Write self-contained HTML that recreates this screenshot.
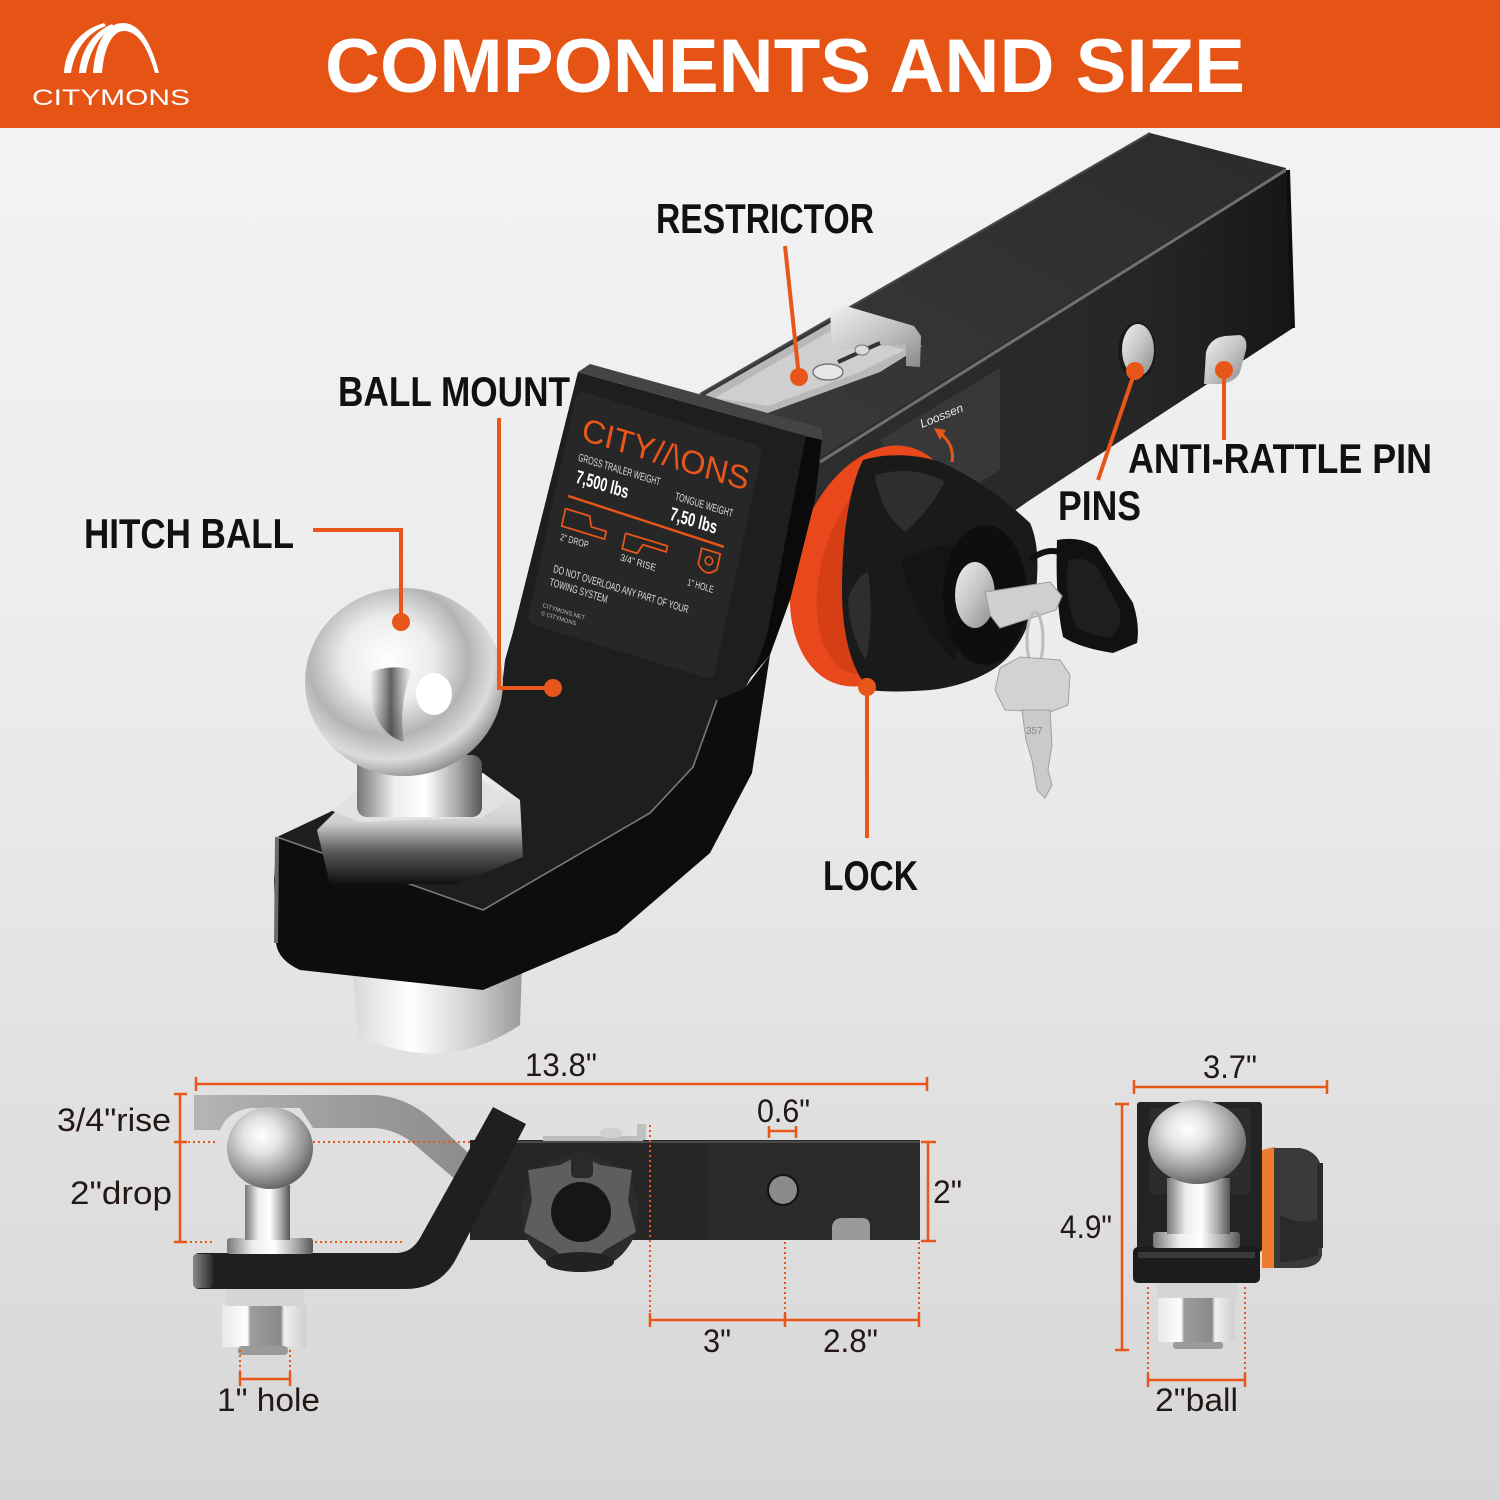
<!DOCTYPE html>
<html><head><meta charset="utf-8"><style>
html,body{margin:0;padding:0;width:1500px;height:1500px;overflow:hidden;background:#e6e6e6}
svg{display:block}
</style></head><body>
<svg width="1500" height="1500" viewBox="0 0 1500 1500" xmlns="http://www.w3.org/2000/svg">
<defs>
 <linearGradient id="bg" x1="0" y1="0" x2="0" y2="1">
  <stop offset="0" stop-color="#f4f4f4"/>
  <stop offset="0.45" stop-color="#ececec"/>
  <stop offset="1" stop-color="#d6d6d6"/>
 </linearGradient>
 <linearGradient id="tubeTop" x1="0" y1="1" x2="1" y2="0">
  <stop offset="0" stop-color="#3a3a3a"/>
  <stop offset="1" stop-color="#2b2b2b"/>
 </linearGradient>
 <linearGradient id="tubeSide" x1="0" y1="0" x2="1" y2="0">
  <stop offset="0" stop-color="#2e2e2e"/>
  <stop offset="0.7" stop-color="#262626"/>
  <stop offset="1" stop-color="#161616"/>
 </linearGradient>
 <radialGradient id="ballG" cx="0.42" cy="0.38" r="0.65">
  <stop offset="0" stop-color="#ffffff"/>
  <stop offset="0.35" stop-color="#ececec"/>
  <stop offset="0.62" stop-color="#b4b4b4"/>
  <stop offset="0.82" stop-color="#dcdcdc"/>
  <stop offset="1" stop-color="#8c8c8c"/>
 </radialGradient>
 <radialGradient id="sballG" cx="0.4" cy="0.35" r="0.7">
  <stop offset="0" stop-color="#ffffff"/>
  <stop offset="0.3" stop-color="#e4e4e4"/>
  <stop offset="0.7" stop-color="#9a9a9a"/>
  <stop offset="1" stop-color="#5a5a5a"/>
 </radialGradient>
 <linearGradient id="neckG" x1="0" y1="0" x2="1" y2="0">
  <stop offset="0" stop-color="#777"/>
  <stop offset="0.3" stop-color="#eee"/>
  <stop offset="0.55" stop-color="#fff"/>
  <stop offset="0.8" stop-color="#aaa"/>
  <stop offset="1" stop-color="#555"/>
 </linearGradient>
 <linearGradient id="hexG" x1="0" y1="0" x2="0" y2="1">
  <stop offset="0" stop-color="#f2f2f2"/>
  <stop offset="0.45" stop-color="#cfcfcf"/>
  <stop offset="0.72" stop-color="#555"/>
  <stop offset="1" stop-color="#111"/>
 </linearGradient>
 <linearGradient id="nutG" x1="0" y1="0" x2="1" y2="0">
  <stop offset="0" stop-color="#d8d8d8"/>
  <stop offset="0.35" stop-color="#ffffff"/>
  <stop offset="0.7" stop-color="#d0d0d0"/>
  <stop offset="1" stop-color="#9a9a9a"/>
 </linearGradient>
 <linearGradient id="snutG" x1="0" y1="0" x2="1" y2="0">
  <stop offset="0" stop-color="#e8e8e8"/>
  <stop offset="0.3" stop-color="#ffffff"/>
  <stop offset="0.34" stop-color="#9c9c9c"/>
  <stop offset="0.7" stop-color="#8a8a8a"/>
  <stop offset="0.74" stop-color="#f0f0f0"/>
  <stop offset="1" stop-color="#cfcfcf"/>
 </linearGradient>
 <linearGradient id="ghostG" x1="0" y1="0" x2="1" y2="0">
  <stop offset="0" stop-color="#b5b5b5"/>
  <stop offset="0.5" stop-color="#9c9c9c"/>
  <stop offset="1" stop-color="#8a8a8a"/>
 </linearGradient>
 <linearGradient id="silverG" x1="0" y1="0" x2="1" y2="1">
  <stop offset="0" stop-color="#f0f0f0"/>
  <stop offset="0.5" stop-color="#c4c4c4"/>
  <stop offset="1" stop-color="#8a8a8a"/>
 </linearGradient>
 <linearGradient id="endG" x1="0" y1="0" x2="1" y2="0">
  <stop offset="0" stop-color="#8a8a8a"/>
  <stop offset="1" stop-color="#2a2a2a"/>
 </linearGradient>
 <linearGradient id="stripeG" x1="0" y1="0" x2="1" y2="0">
  <stop offset="0" stop-color="#555" stop-opacity="0"/>
  <stop offset="0.5" stop-color="#3a3a3a" stop-opacity="0.8"/>
  <stop offset="1" stop-color="#555" stop-opacity="0"/>
 </linearGradient>
</defs>

<!-- background -->
<rect x="0" y="0" width="1500" height="1500" fill="url(#bg)"/>

<!-- header -->
<rect x="0" y="0" width="1500" height="128" fill="#E65415"/>
<g fill="#ffffff">
 <path d="M64,73 C65,50 79,30 104,23 L106,26 C86,33 74,52 71,73 Z"/>
 <path d="M79,73 C81,50 93,32 112,24 L114,27 C99,35 89,52 86,73 Z"/>
 <path d="M93,73 C95,45 105,24 122,23 C140,22 152,45 159,73 L155,73 C148,48 138,31 124,31 C112,31 104,48 102,73 Z"/>
</g>
<text x="32" y="105" font-family="Liberation Sans, sans-serif" font-size="22" fill="#ffffff" textLength="158" lengthAdjust="spacingAndGlyphs">CITYMONS</text>
<text x="325" y="92" font-family="Liberation Sans, sans-serif" font-weight="bold" font-size="76" fill="#ffffff" textLength="920" lengthAdjust="spacingAndGlyphs">COMPONENTS AND SIZE</text>

<!-- ============ MAIN PRODUCT ============ -->
<polygon points="700,394 1150,133 1286,168 820,462" fill="url(#tubeTop)"/>
<polygon points="800,470 1286,168 1293,328 1030,500 900,590 800,620" fill="url(#tubeSide)"/>
<line x1="820" y1="462" x2="1286" y2="170" stroke="#707070" stroke-width="3"/>
<line x1="700" y1="394" x2="1150" y2="133" stroke="#4a4a4a" stroke-width="2"/>
<line x1="1288" y1="170" x2="1293" y2="328" stroke="#0e0e0e" stroke-width="4"/>
<polygon points="880,440 1000,368 1000,470 935,510" fill="#383838"/>
<text x="0" y="0" transform="translate(922,428) rotate(-22)" font-family="Liberation Sans, sans-serif" font-size="12" font-style="italic" fill="#e8e8e8">Loossen</text>
<path d="M952,462 Q955,445 940,433" fill="none" stroke="#E8561A" stroke-width="3"/>
<polygon points="934,428 946,430 940,440" fill="#E8561A"/>
<ellipse cx="1137" cy="351" rx="19" ry="29" fill="#1a1a1a"/>
<ellipse cx="1138" cy="350" rx="16" ry="26" fill="url(#silverG)"/>
<path d="M1206,352 Q1210,338 1225,336 L1240,335 Q1248,338 1246,350 L1240,372 Q1236,382 1220,384 L1204,384 Z" fill="url(#silverG)"/>

<!-- restrictor -->
<polygon points="705,395 832,322 922,346 880,372 765,414" fill="#b8b8b8"/>
<polygon points="715,398 832,330 905,350 860,372 768,406" fill="#cfcfcf"/>
<polygon points="830,310 846,306 914,326 921,336 920,367 906,366 906,344 832,350" fill="url(#silverG)"/>
<ellipse cx="828" cy="372" rx="15" ry="8" fill="#e6e6e6" stroke="#777" stroke-width="1.5"/>
<line x1="838" y1="362" x2="880" y2="343" stroke="#333" stroke-width="4"/>
<ellipse cx="862" cy="350" rx="7" ry="5" fill="#ddd" stroke="#777"/>

<!-- lock -->
<ellipse cx="875" cy="566" rx="80" ry="124" transform="rotate(18 875 566)" fill="#E8481C"/>
<ellipse cx="885" cy="566" rx="62" ry="112" transform="rotate(18 885 566)" fill="#D63E16"/>
<path d="M863,460 C890,452 920,455 940,462 C970,475 1000,495 1030,523 C1040,545 1038,575 1035,600 C1030,625 1020,645 1005,660 C990,675 960,687 930,690 C905,692 885,692 870,690 C850,670 842,630 842,590 C842,540 848,490 863,460 Z" fill="#1a1a1a"/>
<path d="M875,475 C900,468 925,470 945,482 C935,500 920,520 905,532 C890,520 878,500 875,475 Z" fill="#2e2e2e"/>
<path d="M848,600 C852,585 860,575 868,572 C872,600 872,630 866,660 C856,645 849,625 848,600 Z" fill="#2e2e2e"/>
<path d="M900,560 C930,545 960,540 990,548 C975,580 960,620 955,660 C930,640 910,600 900,560 Z" fill="#141414"/>
<ellipse cx="985" cy="595" rx="42" ry="70" fill="#0e0e0e"/>
<ellipse cx="975" cy="595" rx="20" ry="33" fill="url(#silverG)"/>
<path d="M1057,540 Q1080,536 1097,547 L1133,603 Q1140,625 1137,643 L1113,653 Q1080,648 1063,637 Q1055,600 1057,540 Z" fill="#111"/>
<path d="M1068,560 Q1085,555 1098,568 L1120,610 Q1122,630 1110,638 Q1085,635 1075,625 Q1064,595 1068,560 Z" fill="#1e1e1e"/>
<path d="M1030,560 Q1045,548 1060,552" fill="none" stroke="#111" stroke-width="6"/>
<polygon points="985,592 1050,582 1062,596 1056,610 1000,628 990,615" fill="#cfcfcf" stroke="#9a9a9a" stroke-width="1"/>
<ellipse cx="1035" cy="640" rx="8" ry="28" fill="none" stroke="#bdbdbd" stroke-width="3"/>
<polygon points="1000,668 1020,657 1060,660 1070,675 1068,705 1050,712 1005,710 995,690" fill="#d2d2d2" stroke="#a0a0a0" stroke-width="1"/>
<polygon points="1022,710 1050,710 1052,745 1048,770 1052,785 1045,798 1037,790 1032,760 1026,740" fill="#cacaca" stroke="#a0a0a0" stroke-width="1"/>
<text x="1026" y="734" font-family="Liberation Sans, sans-serif" font-size="10" fill="#888">357</text>

<!-- ball mount -->
<path d="M352,965 L522,965 L520,1025 Q480,1052 435,1054 Q390,1052 358,1036 Z" fill="url(#nutG)"/>
<polygon points="762,433 822,438 815,500 790,600 770,655 740,690 718,705 712,675" fill="#0a0a0a"/>
<path d="M578,372 L806,436 L768,630 C752,690 725,720 693,767 L650,813 L483,910 L277,837 L330,812 L500,705 L505,660 L513,632 Z" fill="#1e1e1e"/>
<path d="M277,837 L483,910 L650,813 L693,767 L717,700 L745,688 L770,655 L752,773 L710,853 L617,933 L483,990 L300,970 Q278,960 276,943 L274,880 Z" fill="#0d0d0d"/>
<path d="M277,837 L276,943" stroke="#6a6a6a" stroke-width="4"/>
<polyline points="277,837 483,910 650,813 693,767 717,700" fill="none" stroke="#9a9a9a" stroke-width="1.6" opacity="0.75"/>
<polygon points="578,372 590,364 822,428 822,440 806,436" fill="#444"/>
<g transform="matrix(0.93,0.285,-0.208,0.971,577,390)">
 <rect x="0" y="0" width="200" height="240" rx="8" fill="#272727"/>
 <text x="14" y="47" font-family="Liberation Sans, sans-serif" font-size="33" fill="#E8561A" textLength="179" lengthAdjust="spacingAndGlyphs">CITY//\ONS</text>
 <text x="16" y="68" font-family="Liberation Sans, sans-serif" font-size="11" fill="#dddddd" textLength="88" lengthAdjust="spacingAndGlyphs">GROSS TRAILER WEIGHT</text>
 <text x="18" y="90" font-family="Liberation Sans, sans-serif" font-weight="bold" font-size="19" fill="#ffffff" textLength="56" lengthAdjust="spacingAndGlyphs">7,500 lbs</text>
 <text x="122" y="77" font-family="Liberation Sans, sans-serif" font-size="11" fill="#dddddd" textLength="62" lengthAdjust="spacingAndGlyphs">TONGUE WEIGHT</text>
 <text x="121" y="98" font-family="Liberation Sans, sans-serif" font-weight="bold" font-size="19" fill="#ffffff" textLength="50" lengthAdjust="spacingAndGlyphs">7,50 lbs</text>
 <line x1="14" y1="105" x2="182" y2="108" stroke="#E8561A" stroke-width="2.5"/>
 <polyline points="14,118 40,118 44,128 60,128 60,136 14,136 14,118" fill="none" stroke="#E8561A" stroke-width="1.8"/>
 <polyline points="80,124 125,124 125,130 100,130 96,140 80,140 80,124" fill="none" stroke="#E8561A" stroke-width="1.8"/>
 <path d="M160,116 L180,116 L180,132 Q170,144 160,132 Z" fill="none" stroke="#E8561A" stroke-width="1.8"/>
 <circle cx="170" cy="126" r="4" fill="none" stroke="#E8561A" stroke-width="1.6"/>
 <text x="15" y="150" font-family="Liberation Sans, sans-serif" font-size="10" fill="#dddddd" textLength="30" lengthAdjust="spacingAndGlyphs">2" DROP</text>
 <text x="80" y="152" font-family="Liberation Sans, sans-serif" font-size="10" fill="#dddddd" textLength="38" lengthAdjust="spacingAndGlyphs">3/4" RISE</text>
 <text x="153" y="156" font-family="Liberation Sans, sans-serif" font-size="10" fill="#dddddd" textLength="28" lengthAdjust="spacingAndGlyphs">1" HOLE</text>
 <text x="15" y="183" font-family="Liberation Sans, sans-serif" font-size="11" fill="#dddddd" textLength="145" lengthAdjust="spacingAndGlyphs">DO NOT OVERLOAD ANY PART OF YOUR</text>
 <text x="14" y="197" font-family="Liberation Sans, sans-serif" font-size="11" fill="#dddddd" textLength="62" lengthAdjust="spacingAndGlyphs">TOWING SYSTEM</text>
 <text x="12" y="220" font-family="Liberation Sans, sans-serif" font-size="6" fill="#bbbbbb">CITYMONS.NET</text>
 <text x="12" y="228" font-family="Liberation Sans, sans-serif" font-size="6" fill="#bbbbbb">© CITYMONS</text>
</g>

<polygon points="317,830 357,790 483,773 520,800 523,857 457,884 330,884" fill="url(#hexG)"/>
<polygon points="330,810 360,792 480,778 510,800 480,818 360,822" fill="#e2e2e2"/>
<rect x="357" y="755" width="125" height="62" rx="10" fill="url(#neckG)"/>
<ellipse cx="404" cy="682" rx="99" ry="94" fill="url(#ballG)"/>
<path d="M370,672 Q392,664 412,670 Q398,705 404,742 Q380,735 372,705 Z" fill="url(#stripeG)"/>
<ellipse cx="434" cy="694" rx="18" ry="21" fill="#ffffff"/>

<!-- callouts -->
<g stroke="#E8561A" stroke-width="4" fill="none">
 <polyline points="313,530 401,530 401,622"/>
 <polyline points="499,418 499,688 553,688"/>
 <line x1="785" y1="246" x2="799" y2="377"/>
 <line x1="1098" y1="480" x2="1135" y2="371"/>
 <line x1="1224" y1="440" x2="1224" y2="370"/>
 <line x1="867" y1="838" x2="867" y2="687"/>
</g>
<g fill="#E8561A">
 <circle cx="401" cy="622" r="9"/>
 <circle cx="553" cy="688" r="9"/>
 <circle cx="799" cy="377" r="9"/>
 <circle cx="1135" cy="371" r="9"/>
 <circle cx="1224" cy="370" r="9"/>
 <circle cx="867" cy="687" r="9"/>
</g>
<g font-family="Liberation Sans, sans-serif" font-weight="bold" font-size="42" fill="#111111">
 <text x="656" y="233" textLength="218" lengthAdjust="spacingAndGlyphs">RESTRICTOR</text>
 <text x="338" y="406" textLength="232" lengthAdjust="spacingAndGlyphs">BALL MOUNT</text>
 <text x="84" y="548" textLength="210" lengthAdjust="spacingAndGlyphs">HITCH BALL</text>
 <text x="1128" y="473" textLength="304" lengthAdjust="spacingAndGlyphs">ANTI-RATTLE PIN</text>
 <text x="1058" y="520" textLength="83" lengthAdjust="spacingAndGlyphs">PINS</text>
 <text x="823" y="890" textLength="95" lengthAdjust="spacingAndGlyphs">LOCK</text>
</g>

<!-- ============ SIDE VIEW DIAGRAM ============ -->
<path d="M194,1095 L375,1095 Q408,1097 435,1122 L492,1175 L470,1192 L415,1145 Q398,1130 375,1128 L313,1128 L300,1108 L252,1108 Q228,1110 220,1130 L194,1130 Z" fill="url(#ghostG)"/>
<rect x="470" y="1140" width="450" height="100" fill="#262626"/>
<rect x="708" y="1140" width="212" height="100" fill="#2a2a2a"/>
<line x1="505" y1="1142" x2="920" y2="1142" stroke="#4a4a4a" stroke-width="2"/>
<rect x="543" y="1136" width="100" height="5" fill="#bdbdbd"/>
<rect x="600" y="1128" width="22" height="10" rx="5" fill="#d0d0d0"/>
<rect x="637" y="1124" width="9" height="16" fill="#c0c0c0"/>
<circle cx="783" cy="1190" r="16" fill="#111"/>
<circle cx="783" cy="1190" r="14" fill="#8a8a8a"/>
<path d="M832,1240 L832,1226 Q834,1218 842,1218 L862,1218 Q870,1218 870,1226 L870,1240 Z" fill="#9a9a9a"/>
<path d="M200,1253 L398,1253 Q412,1252 420,1238 L493,1107 L526,1124 L458,1255 Q442,1289 405,1289 L200,1289 Q193,1289 193,1282 L193,1260 Q193,1253 200,1253 Z" fill="#1f1f1f"/>
<rect x="193" y="1254" width="20" height="34" rx="4" fill="url(#endG)"/>
<circle cx="580" cy="1213" r="59" fill="#2c2c2c"/>
<path d="M580,1155 L600,1165 L632,1170 L628,1200 L636,1232 L605,1250 L580,1272 L555,1250 L524,1232 L532,1200 L528,1170 L560,1165 Z" fill="#5e5e5e"/>
<circle cx="581" cy="1212" r="30" fill="#161616"/>
<rect x="571" y="1152" width="22" height="26" rx="5" fill="#2a2a2a"/>
<ellipse cx="580" cy="1262" rx="34" ry="10" fill="#222"/>
<rect x="222" y="1305" width="84" height="42" fill="url(#snutG)"/>
<rect x="226" y="1289" width="78" height="17" fill="#d5d5d5"/>
<rect x="238" y="1346" width="50" height="9" rx="4" fill="#9a9a9a"/>
<rect x="227" y="1238" width="86" height="16" rx="3" fill="url(#neckG)"/>
<rect x="245" y="1185" width="45" height="55" fill="url(#neckG)"/>
<ellipse cx="270" cy="1148" rx="43" ry="41" fill="url(#sballG)"/>

<g stroke="#E8561A" stroke-width="2.5" fill="none">
 <line x1="196" y1="1084" x2="927" y2="1084"/>
 <line x1="196" y1="1077" x2="196" y2="1091"/>
 <line x1="927" y1="1077" x2="927" y2="1091"/>
 <line x1="180" y1="1094" x2="180" y2="1242"/>
 <line x1="174" y1="1094" x2="187" y2="1094"/>
 <line x1="174" y1="1142" x2="187" y2="1142"/>
 <line x1="174" y1="1242" x2="187" y2="1242"/>
 <line x1="769" y1="1131" x2="796" y2="1131"/>
 <line x1="769" y1="1126" x2="769" y2="1138"/>
 <line x1="796" y1="1126" x2="796" y2="1138"/>
 <line x1="928" y1="1142" x2="928" y2="1241"/>
 <line x1="921" y1="1142" x2="936" y2="1142"/>
 <line x1="921" y1="1241" x2="936" y2="1241"/>
 <line x1="650" y1="1320" x2="919" y2="1320"/>
 <line x1="650" y1="1313" x2="650" y2="1327"/>
 <line x1="785" y1="1313" x2="785" y2="1327"/>
 <line x1="919" y1="1313" x2="919" y2="1327"/>
 <line x1="240" y1="1379" x2="290" y2="1379"/>
 <line x1="240" y1="1372" x2="240" y2="1386"/>
 <line x1="290" y1="1372" x2="290" y2="1386"/>
</g>
<g stroke="#E8561A" stroke-width="2" stroke-dasharray="2,3" fill="none">
 <line x1="183" y1="1142" x2="215" y2="1142"/>
 <line x1="313" y1="1142" x2="470" y2="1142"/>
 <line x1="185" y1="1242" x2="213" y2="1242"/>
 <line x1="315" y1="1242" x2="405" y2="1242"/>
 <line x1="650" y1="1125" x2="650" y2="1318"/>
 <line x1="785" y1="1242" x2="785" y2="1318"/>
 <line x1="919" y1="1242" x2="919" y2="1318"/>
 <line x1="240" y1="1350" x2="240" y2="1378"/>
 <line x1="290" y1="1350" x2="290" y2="1378"/>
</g>

<!-- ============ FRONT VIEW DIAGRAM ============ -->
<rect x="1137" y="1102" width="125" height="150" rx="3" fill="#232323"/>
<rect x="1150" y="1108" width="100" height="86" rx="3" fill="#2c2c2c"/>
<text x="1222" y="1122" font-family="Liberation Sans, sans-serif" font-weight="bold" font-size="10" fill="#E8561A">S</text>
<path d="M1262,1150 L1274,1147 L1278,1150 L1278,1265 L1274,1268 L1262,1268 Z" fill="#EE7A2E"/>
<path d="M1274,1148 L1300,1148 Q1322,1152 1322,1175 L1322,1255 Q1320,1267 1300,1268 L1274,1268 Z" fill="#3a3a3a"/>
<path d="M1280,1215 Q1300,1225 1318,1220 L1318,1255 Q1300,1262 1280,1262 Z" fill="#2a2a2a"/>
<rect x="1317" y="1163" width="6" height="85" fill="#2a2a2a"/>
<rect x="1157" y="1283" width="81" height="15" fill="#d5d5d5"/>
<rect x="1158" y="1298" width="77" height="44" fill="url(#snutG)"/>
<rect x="1173" y="1342" width="50" height="7" rx="3" fill="#9a9a9a"/>
<rect x="1133" y="1247" width="127" height="36" rx="5" fill="#1c1c1c"/>
<rect x="1138" y="1252" width="117" height="6" fill="#3a3a3a"/>
<rect x="1153" y="1232" width="87" height="16" rx="3" fill="url(#neckG)"/>
<rect x="1167" y="1178" width="63" height="56" fill="url(#neckG)"/>
<ellipse cx="1197" cy="1142" rx="49" ry="42" fill="url(#sballG)"/>

<g stroke="#E8561A" stroke-width="2.5" fill="none">
 <line x1="1134" y1="1087" x2="1327" y2="1087"/>
 <line x1="1134" y1="1080" x2="1134" y2="1094"/>
 <line x1="1327" y1="1080" x2="1327" y2="1094"/>
 <line x1="1122" y1="1104" x2="1122" y2="1350"/>
 <line x1="1115" y1="1104" x2="1129" y2="1104"/>
 <line x1="1115" y1="1350" x2="1129" y2="1350"/>
 <line x1="1148" y1="1380" x2="1245" y2="1380"/>
 <line x1="1148" y1="1373" x2="1148" y2="1387"/>
 <line x1="1245" y1="1373" x2="1245" y2="1387"/>
</g>
<g stroke="#E8561A" stroke-width="2" stroke-dasharray="2,3" fill="none">
 <line x1="1148" y1="1287" x2="1148" y2="1378"/>
 <line x1="1245" y1="1287" x2="1245" y2="1378"/>
</g>

<g font-family="Liberation Sans, sans-serif" font-size="32" fill="#231815">
 <text x="525" y="1076" textLength="72" lengthAdjust="spacingAndGlyphs">13.8"</text>
 <text x="757" y="1122" textLength="53" lengthAdjust="spacingAndGlyphs">0.6"</text>
 <text x="933" y="1203" textLength="29" lengthAdjust="spacingAndGlyphs">2"</text>
 <text x="703" y="1352" textLength="28" lengthAdjust="spacingAndGlyphs">3"</text>
 <text x="823" y="1352" textLength="55" lengthAdjust="spacingAndGlyphs">2.8"</text>
 <text x="57" y="1131" textLength="114" lengthAdjust="spacingAndGlyphs">3/4"rise</text>
 <text x="70" y="1204" textLength="102" lengthAdjust="spacingAndGlyphs">2"drop</text>
 <text x="217" y="1411" textLength="103" lengthAdjust="spacingAndGlyphs">1" hole</text>
 <text x="1203" y="1078" textLength="54" lengthAdjust="spacingAndGlyphs">3.7"</text>
 <text x="1060" y="1238" textLength="52" lengthAdjust="spacingAndGlyphs">4.9"</text>
 <text x="1155" y="1411" textLength="83" lengthAdjust="spacingAndGlyphs">2"ball</text>
</g>
</svg>
</body></html>
